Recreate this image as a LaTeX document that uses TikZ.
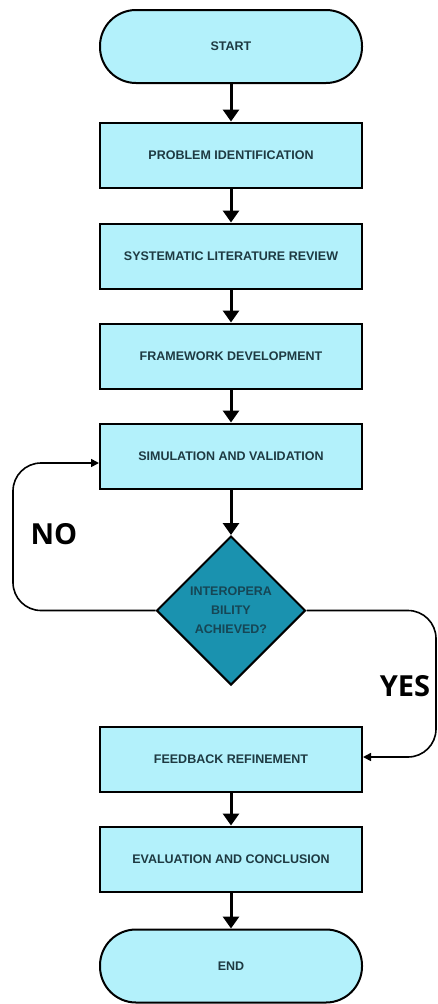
\documentclass[tikz,border=0pt]{standalone}
\usepackage{fontspec}
\setmainfont{Liberation Sans}[BoldFont={Liberation Sans Bold}]
\newfontfamily\labfont{Open Sans}[BoldFont={Open Sans Bold}]
\usetikzlibrary{shapes.geometric,arrows.meta}
\definecolor{boxfill}{HTML}{B3F1FB}
\definecolor{dfill}{HTML}{1A92AF}
\definecolor{btext}{HTML}{1E3A42}
\definecolor{dtext}{HTML}{164655}
\tikzset{
  stepbox/.style={draw=black, line width=2pt, fill=boxfill, minimum width=262pt, minimum height=65pt, inner sep=0pt, font=\bfseries\fontsize{12.5}{15}\selectfont, text=btext},
  term/.style={stepbox, rounded corners=36pt, minimum height=73pt},
  decide/.style={draw=black, line width=2pt, fill=dfill, diamond, minimum width=149pt, minimum height=149pt, inner sep=0pt, aspect=1, font=\bfseries\fontsize{12.5}{19}\selectfont, text=dtext, align=center},
  flow/.style={line width=3pt, -{Triangle[width=16pt,length=12pt]}},
  loop/.style={line width=1.6pt, rounded corners=28pt, -{Triangle[width=8pt,length=8pt]}},
  lab/.style={font=\labfont\bfseries\fontsize{29}{32}\selectfont, text=black}
}
\begin{document}
\begin{tikzpicture}[x=1pt,y=-1pt]
\useasboundingbox (0,0) rectangle (437,1004);
\fill[white] (0,0) rectangle (437,1004);
\node[term] (start) at (231,46.5) {START};
\node[stepbox] (p1) at (231,155) {PROBLEM IDENTIFICATION};
\node[stepbox] (p2) at (231,256) {SYSTEMATIC LITERATURE REVIEW};
\node[stepbox] (p3) at (231,356) {FRAMEWORK DEVELOPMENT};
\node[stepbox] (p4) at (231,456) {SIMULATION AND VALIDATION};
\node[decide] (d) at (231,610.5) {INTEROPERA\\BILITY\\ACHIEVED?};
\node[stepbox] (p5) at (231,759) {FEEDBACK REFINEMENT};
\node[stepbox] (p6) at (231,859) {EVALUATION AND CONCLUSION};
\node[term] (end) at (231,966) {END};
\coordinate (nl1) at (13,610.5);
\coordinate (nl2) at (13,463);
\coordinate (yr1) at (436,610.5);
\coordinate (yr2) at (436,757);
\draw[flow] (start) -- (p1);
\draw[flow] (p1) -- (p2);
\draw[flow] (p2) -- (p3);
\draw[flow] (p3) -- (p4);
\draw[flow] (p4) -- (d);
\draw[flow] (p5) -- (p6);
\draw[flow] (p6) -- (end);
\draw[loop] (d.west) -- (nl1) -- (nl2) -- (p4.west |- nl2);
\draw[loop] (d.east) -- (yr1) -- (yr2) -- (p5.east |- yr2);
\node[lab] (no) at (54,534) {NO};
\node[lab] (yes) at (405,686) {YES};
\end{tikzpicture}
\end{document}
